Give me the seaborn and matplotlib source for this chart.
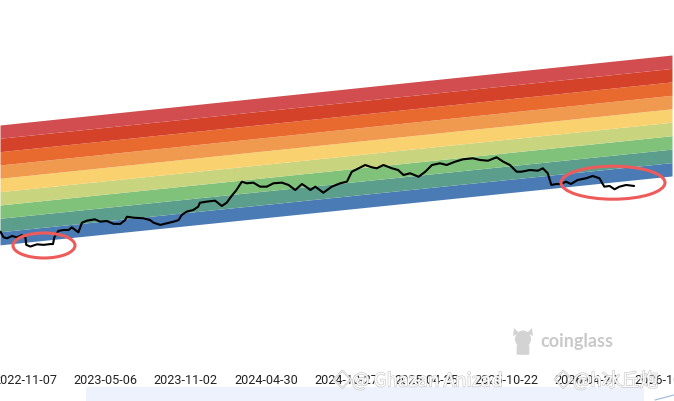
import matplotlib
matplotlib.use("Agg")
import matplotlib.pyplot as plt
import matplotlib.dates as mdates
import matplotlib.patheffects as pe
from matplotlib.patches import Ellipse, Rectangle, Polygon, FancyBboxPatch
import numpy as np
import pandas as pd
import seaborn as sns

# ---------------- data ----------------
price_dates = [
    "2022-09-12", "2022-09-19", "2022-09-27", "2022-10-08", "2022-10-19", "2022-10-30",
    "2022-11-07", "2022-11-09", "2022-11-18", "2022-12-03", "2022-12-18", "2023-01-02",
    "2023-01-08", "2023-01-11", "2023-01-20", "2023-01-31", "2023-02-12", "2023-02-19",
    "2023-02-27", "2023-03-06", "2023-03-14", "2023-03-25", "2023-04-12", "2023-04-24",
    "2023-05-09", "2023-05-24", "2023-06-08", "2023-06-19", "2023-06-23", "2023-07-08",
    "2023-07-30", "2023-08-14", "2023-08-22", "2023-09-06", "2023-09-21", "2023-10-06",
    "2023-10-17", "2023-10-24", "2023-11-04", "2023-11-19", "2023-11-30", "2023-12-04",
    "2023-12-19", "2024-01-07", "2024-01-22", "2024-02-02", "2024-02-13", "2024-02-24",
    "2024-03-07", "2024-03-18", "2024-04-02", "2024-04-17", "2024-05-02", "2024-05-17",
    "2024-06-05", "2024-06-20", "2024-07-05", "2024-07-20", "2024-07-31", "2024-08-08",
    "2024-08-19", "2024-09-06", "2024-09-25", "2024-10-14", "2024-10-29", "2024-11-09",
    "2024-11-20", "2024-12-09", "2024-12-24", "2025-01-04", "2025-01-19", "2025-02-07",
    "2025-02-21", "2025-03-05", "2025-03-20", "2025-04-08", "2025-04-23", "2025-05-08",
    "2025-05-26", "2025-06-10", "2025-06-29", "2025-07-17", "2025-08-08", "2025-08-24",
    "2025-09-11", "2025-09-30", "2025-10-15", "2025-10-30", "2025-11-14", "2025-11-25",
    "2025-12-14", "2026-01-01", "2026-01-12", "2026-01-23", "2026-01-31", "2026-02-11",
    "2026-02-22", "2026-03-05", "2026-03-16", "2026-03-31", "2026-04-19", "2026-05-04",
    "2026-05-19", "2026-05-30", "2026-06-11", "2026-06-22", "2026-07-03", "2026-07-18",
    "2026-08-05",
]
price_usd = [
    20900, 18300, 17900, 18900, 18300, 19300,
    18300, 15300, 14700, 15500, 15300, 15600,
    15600, 18300, 21300, 21800, 21800, 23200,
    21800, 20600, 25900, 27200, 28100, 26600,
    27000, 25200, 25200, 27600, 29900, 29200,
    28800, 27600, 25900, 24600, 25600, 26600,
    27600, 31100, 33700, 35100, 37900, 41700,
    42800, 43800, 38600, 41700, 48900, 56400,
    68800, 66200, 67200, 61100, 61100, 66200,
    67200, 63600, 56400, 65100, 60200, 56400,
    61100, 52900, 61100, 66200, 68800, 87200,
    92400, 102300, 96800, 94600, 102300, 94600,
    90800, 80600, 84000, 77400, 87200, 102300,
    106500, 102300, 110700, 117200, 120000, 115200,
    113300, 122900, 110700, 102300, 87200, 87200,
    90800, 89300, 94600, 84000, 63600, 65100,
    65100, 68800, 65100, 71600, 74600, 78800,
    74600, 61100, 62100, 57400, 61100, 63600,
    62100,
]

# rainbow band boundaries (bottom -> top) at the first and last date of the chart
band_dates = ["2022-09-11", "2026-10-29"]
band_bound_start = [15300, 20900, 28800, 39500, 54200, 74600, 102300, 140400, 193200, 265000]
band_bound_end = [78800, 108300, 149300, 205400, 283200, 389600, 537000, 738700, 1018000, 1400000]
band_colors = ["#4a7bb5", "#5c9e8c", "#80c27a", "#c8d47e", "#f9d26f",
               "#f09a50", "#e86a2f", "#d44229", "#d14d4f"]  # bottom -> top

tick_dates = ["2022-11-07", "2023-05-06", "2023-11-02", "2024-04-30", "2024-10-27",
              "2025-04-25", "2025-10-22", "2026-04-20", "2026-10-17"]

x_range = ["2022-09-11", "2026-10-29"]
y_range = [818, 5.18e6]

# ---------------- plot ----------------
sns.set_theme(style="white")
plt.rcParams["font.family"] = ["Roboto", "DejaVu Sans"]

W, H = 674, 401
fig = plt.figure(figsize=(W / 100, H / 100), dpi=100)
ax = fig.add_axes([0, (H - 368) / H, 672 / W, 368 / H])

bd = pd.to_datetime(band_dates)
for i, col in enumerate(band_colors):
    lo = [band_bound_start[i], band_bound_end[i]]
    hi = [band_bound_start[i + 1], band_bound_end[i + 1]]
    ax.fill_between(bd, lo, hi, color=col, linewidth=0, zorder=1)

df = pd.DataFrame({"date": pd.to_datetime(price_dates), "price": price_usd})
sns.lineplot(data=df, x="date", y="price", color="black", linewidth=1.5, ax=ax, zorder=3)

ax.set_yscale("log")
ax.set_ylim(*y_range)
ax.set_xlim(pd.to_datetime(x_range[0]), pd.to_datetime(x_range[1]))
ax.set_xticks(pd.to_datetime(tick_dates))
ax.xaxis.set_major_formatter(mdates.DateFormatter("%Y-%m-%d"))
ax.tick_params(axis="x", length=0, pad=4.5, labelsize=9.1, labelcolor="#222222")
ax.set_yticks([])
ax.set_xlabel("")
ax.set_ylabel("")
for s in ax.spines.values():
    s.set_visible(False)
ax.minorticks_off()

# red highlight ellipses (figure pixel positions)
def fx(px):
    return px / W

def fy(py):
    return (H - py) / H

for cx, cy, w, h in [(44, 245.5, 62, 25), (613, 182.7, 104, 33)]:
    e = Ellipse((fx(cx), fy(cy)), w / W, h / H, transform=fig.transFigure,
                fill=False, edgecolor="#ee5b5b", linewidth=2.2, zorder=10)
    fig.add_artist(e)

# pale strip at the bottom
fig.add_artist(Rectangle((fx(86), 0), (644 - 86) / W, 14 / H, transform=fig.transFigure,
                         facecolor="#eef2fc", edgecolor="none", zorder=0))
fig.add_artist(plt.Line2D([fx(655), fx(674)], [fy(400), fy(395)], transform=fig.transFigure,
                          color="#9fb5dd", linewidth=0.8))

# coinglass watermark: simple bull-head icon + word mark
icon_col = "#d3d3d3"
fig.add_artist(Ellipse((fx(523), fy(339)), 16 / W, 17 / H, transform=fig.transFigure,
                       facecolor=icon_col, edgecolor="none", zorder=5))
fig.add_artist(FancyBboxPatch((fx(518), fy(354)), 10 / W, 8 / H, transform=fig.transFigure,
                              boxstyle="round,pad=0.002", facecolor=icon_col,
                              edgecolor="none", zorder=5))
fig.add_artist(Polygon([(fx(514), fy(328)), (fx(519), fy(333)), (fx(513), fy(336))],
                       closed=True, transform=fig.transFigure, facecolor=icon_col,
                       edgecolor="none", zorder=5))
fig.add_artist(Polygon([(fx(532), fy(328)), (fx(527), fy(333)), (fx(533), fy(336))],
                       closed=True, transform=fig.transFigure, facecolor=icon_col,
                       edgecolor="none", zorder=5))
fig.text(fx(540), fy(341), "coinglass", fontsize=13, fontweight="bold", color="#c9c9c9",
         ha="left", va="center", family=["Lato", "DejaVu Sans"])

# social watermark
wm_fx = [pe.withStroke(linewidth=0.9, foreground="#c4c4c4")]
fig.text(fx(333), fy(381), "\u25c7@ Ghazan Anizad", fontsize=13.5, color="white", alpha=0.95,
         ha="left", va="center", path_effects=wm_fx, zorder=20,
         family=["Noto Sans CJK SC", "DejaVu Sans"])
fig.text(fx(554), fy(381), "\u25c7@h冰丘炮", fontsize=13.5, color="white", alpha=0.95,
         ha="left", va="center", path_effects=wm_fx, zorder=20,
         family=["Noto Sans CJK SC", "DejaVu Sans"])

fig.savefig("out.png", dpi=100)
